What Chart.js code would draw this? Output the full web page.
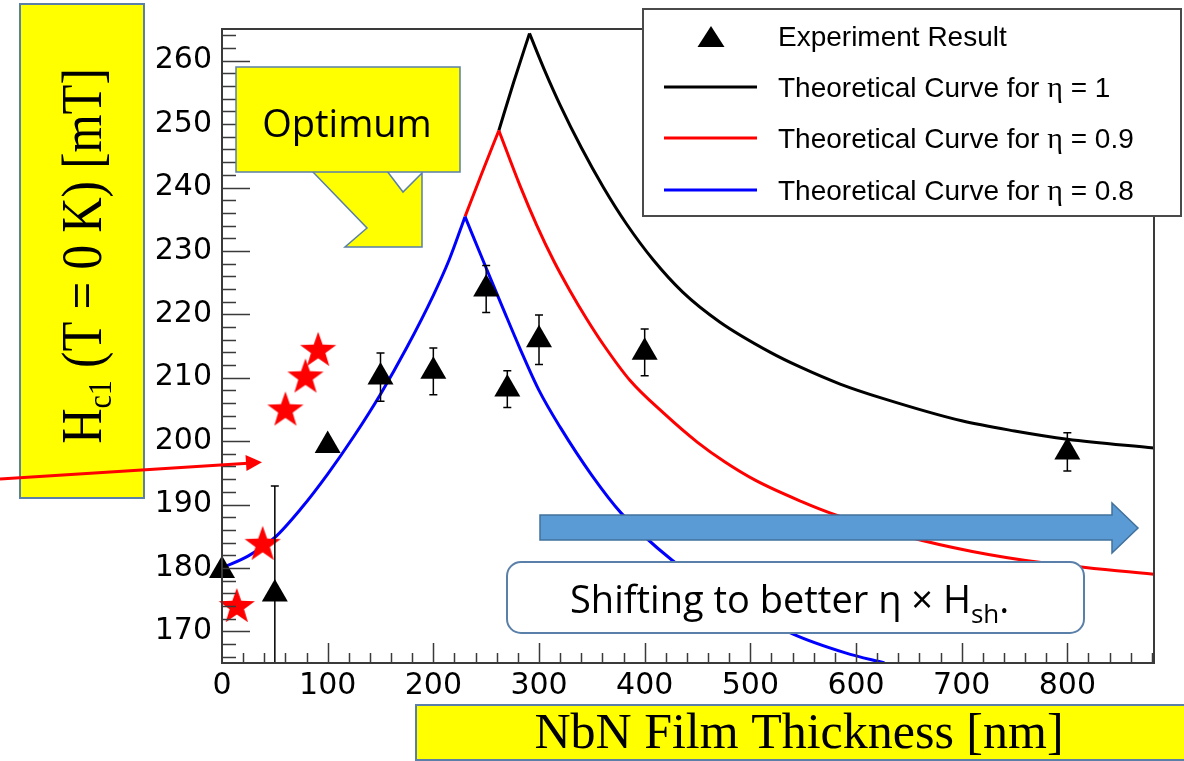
<!DOCTYPE html>
<html>
<head>
<meta charset="utf-8">
<script src="https://cdn.jsdelivr.net/npm/chart.js@4.4.0/dist/chart.umd.min.js"></script>
<style>
  html, body { margin: 0; padding: 0; background: #fff; }
  #wrap { width: 1184px; height: 761px; }
</style>
</head>
<body>
<div id="wrap"><canvas id="hc1Chart" width="1184" height="761"></canvas></div>
<script>
// axis ticks
const xTickVals = [0, 100, 200, 300, 400, 500, 600, 700, 800];
const yTickVals = [170, 180, 190, 200, 210, 220, 230, 240, 250, 260];

// experiment (NbN thickness [nm], Hc1 [mT], error)
const expX = [0, 50, 100, 150, 200, 250, 270, 300, 400, 800];
const expY = [179.6, 175.9, 199.3, 210.1, 211.0, 224.0, 208.2, 216.0, 214.0, 198.3];
const expErr = [0, 17, 0, 3.8, 3.7, 3.7, 2.9, 3.9, 3.7, 3.0];

// red stars
const starX = [14, 38.5, 60, 79, 91];
const starY = [174.0, 183.8, 205.0, 210.2, 214.4];

// eta = 0.8 (blue)
const blueRiseX = [0, 25, 50, 75, 100, 125, 150, 175, 200, 215, 230];
const blueRiseY = [180.0, 181.9, 184.8, 189.4, 194.8, 200.8, 207.4, 214.8, 223.0, 228.6, 235.4];
const blueFallX = [230, 250, 266, 282, 300, 320, 350, 378, 426, 480, 540, 590, 627];
const blueFallY = [235.4, 227.3, 220.9, 214.6, 208.0, 202.2, 194.6, 188.6, 181.2, 175.0, 169.6, 166.6, 165.0];

// eta = 0.9 (red)
const redRiseX = [230, 246, 262];
const redRiseY = [235.4, 242.3, 249.0];
const redFallX = [262, 282, 298, 314, 329, 345, 361, 386, 418, 450, 476, 505, 548, 580, 647, 710, 777, 882];
const redFallY = [249.0, 240.3, 234.0, 228.4, 223.8, 219.3, 215.2, 209.6, 204.4, 199.8, 196.7, 193.8, 190.5, 188.4, 185.0, 182.6, 180.8, 179.0];

// eta = 1 (black)
const blackRiseX = [262, 276, 291];
const blackRiseY = [249.0, 256.6, 264.3];
const blackFallX = [291, 305, 320, 340, 361, 383, 408, 436, 471, 519, 547, 585, 626, 700, 750, 800, 882];
const blackFallY = [264.3, 258.6, 253.0, 246.3, 240.0, 234.2, 228.6, 223.5, 218.8, 214.0, 211.7, 209.0, 206.7, 203.2, 201.6, 200.3, 198.9];

const toPts = (xs, ys) => xs.map((x, i) => ({ x: x, y: ys[i] }));

function makeStar(size, color) {
  const c = document.createElement('canvas');
  c.width = c.height = size;
  const g = c.getContext('2d');
  const R = size / 2 - 1, r = R * 0.4, cx = size / 2, cy = size / 2 + 1;
  g.beginPath();
  for (let i = 0; i < 10; i++) {
    const a = -Math.PI / 2 + i * Math.PI / 5;
    const rr = i % 2 ? r : R;
    g.lineTo(cx + rr * Math.cos(a), cy + rr * Math.sin(a));
  }
  g.closePath();
  g.fillStyle = color;
  g.fill();
  return c;
}
const starImg = makeStar(40, '#ff0000');

const curve = (label, xs, ys, color, order) => ({
  label: label,
  data: toPts(xs, ys),
  showLine: true,
  borderColor: color,
  backgroundColor: color,
  borderWidth: 3,
  pointRadius: 0,
  cubicInterpolationMode: 'monotone',
  order: order
});

const boxBlue = '#5a7fa8';

function richText(ctx, parts, x, y) {
  let cx = x;
  parts.forEach(p => {
    ctx.font = p.font;
    ctx.fillText(p.t, cx, y + (p.dy || 0));
    cx += ctx.measureText(p.t).width;
  });
}
function richWidth(ctx, parts) {
  let w = 0;
  parts.forEach(p => { ctx.font = p.font; w += ctx.measureText(p.t).width; });
  return w;
}

const rootStyle = {
  id: 'rootStyle',
  afterDatasetsDraw(chart) {
    const ctx = chart.ctx, xs = chart.scales.x, ys = chart.scales.y, a = chart.chartArea;
    ctx.save();
    ctx.strokeStyle = '#000';
    ctx.lineWidth = 1.5;
    expX.forEach((xv, i) => {
      if (!expErr[i]) return;
      const px = xs.getPixelForValue(xv);
      const top = ys.getPixelForValue(expY[i] + expErr[i]);
      const bot = ys.getPixelForValue(expY[i] - expErr[i]);
      ctx.beginPath();
      ctx.moveTo(px, Math.max(top, a.top));
      ctx.lineTo(px, Math.min(bot, a.bottom));
      if (top > a.top) { ctx.moveTo(px - 4, top); ctx.lineTo(px + 4, top); }
      if (bot < a.bottom) { ctx.moveTo(px - 4, bot); ctx.lineTo(px + 4, bot); }
      ctx.stroke();
    });
    ctx.restore();
  },
  afterDraw(chart) {
    const ctx = chart.ctx, xs = chart.scales.x, ys = chart.scales.y, a = chart.chartArea;
    ctx.save();

    // frame + inward ticks
    ctx.strokeStyle = '#3a3a3a';
    ctx.lineWidth = 2;
    ctx.strokeRect(a.left, a.top, a.right - a.left, a.bottom - a.top);
    ctx.lineWidth = 1.5;
    ctx.beginPath();
    for (let v = 166; v <= 264; v += 2) {
      const py = Math.round(ys.getPixelForValue(v)) + 0.5;
      ctx.moveTo(a.left, py);
      ctx.lineTo(a.left + (v % 10 === 0 ? 28 : 14), py);
    }
    for (let v = 20; v <= 880; v += 20) {
      const px = Math.round(xs.getPixelForValue(v)) + 0.5;
      ctx.moveTo(px, a.bottom);
      ctx.lineTo(px, a.bottom - (v % 100 === 0 ? 20 : 10));
    }
    ctx.stroke();

    // Optimum callout
    ctx.fillStyle = '#ffff00';
    ctx.strokeStyle = boxBlue;
    ctx.lineWidth = 1.5;
    ctx.beginPath();
    ctx.moveTo(312, 171); ctx.lineTo(367, 228); ctx.lineTo(345, 247); ctx.lineTo(422, 247);
    ctx.lineTo(422, 173); ctx.lineTo(403, 192); ctx.lineTo(387, 171);
    ctx.closePath();
    ctx.fill(); ctx.stroke();
    ctx.fillRect(236, 67, 224, 105);
    ctx.strokeRect(236, 67, 224, 105);
    ctx.fillStyle = '#000';
    ctx.font = "38px 'Open Sans'";
    ctx.textAlign = 'center';
    ctx.textBaseline = 'alphabetic';
    ctx.fillText('Optimum', 347, 137);

    // blue block arrow
    ctx.fillStyle = '#5b9bd5';
    ctx.strokeStyle = '#41719c';
    ctx.lineWidth = 1.5;
    ctx.beginPath();
    ctx.moveTo(540, 515); ctx.lineTo(1112, 515); ctx.lineTo(1112, 503); ctx.lineTo(1138, 528);
    ctx.lineTo(1112, 553); ctx.lineTo(1112, 540); ctx.lineTo(540, 540);
    ctx.closePath();
    ctx.fill(); ctx.stroke();

    // Shifting box
    const bx = 507, by = 562, bw = 577, bh = 71, br = 14;
    ctx.beginPath();
    ctx.moveTo(bx + br, by);
    ctx.arcTo(bx + bw, by, bx + bw, by + bh, br);
    ctx.arcTo(bx + bw, by + bh, bx, by + bh, br);
    ctx.arcTo(bx, by + bh, bx, by, br);
    ctx.arcTo(bx, by, bx + bw, by, br);
    ctx.closePath();
    ctx.fillStyle = '#fff';
    ctx.fill();
    ctx.strokeStyle = boxBlue;
    ctx.lineWidth = 2;
    ctx.stroke();
    ctx.fillStyle = '#000';
    ctx.textAlign = 'left';
    richText(ctx, [
      { t: 'Shifting to better \u03b7 \u00d7 H', font: "38px 'Open Sans'" },
      { t: 'sh', font: "26px 'Open Sans'", dy: 10 },
      { t: '.', font: "38px 'Open Sans'" }
    ], 570, 613);

    // legend
    ctx.fillStyle = '#fff';
    ctx.fillRect(643, 9, 538, 207);
    ctx.strokeStyle = '#4a4a4a';
    ctx.lineWidth = 2;
    ctx.strokeRect(643, 9, 538, 207);
    const seen = [];
    let row = 0;
    const rowsY = [36, 87, 138, 190];
    chart.data.datasets.forEach(ds => {
      if (ds.noLegend || seen.indexOf(ds.label) >= 0) return;
      seen.push(ds.label);
      const ry = rowsY[row++];
      if (ds.showLine) {
        ctx.strokeStyle = ds.borderColor;
        ctx.lineWidth = 3;
        ctx.beginPath();
        ctx.moveTo(664, ry); ctx.lineTo(757, ry);
        ctx.stroke();
      } else {
        ctx.fillStyle = '#000';
        ctx.beginPath();
        ctx.moveTo(711, ry - 10); ctx.lineTo(724.5, ry + 11); ctx.lineTo(697.5, ry + 11);
        ctx.closePath();
        ctx.fill();
      }
      ctx.fillStyle = '#000';
      const bits = ds.label.split('\u03b7');
      const parts = [{ t: bits[0], font: "28px 'Liberation Sans'" }];
      if (bits.length > 1) {
        parts.push({ t: '\u03b7', font: "30px 'Liberation Serif'" });
        parts.push({ t: bits[1], font: "28px 'Liberation Sans'" });
      }
      richText(ctx, parts, 778, ry + 10);
    });

    // y title box
    ctx.fillStyle = '#ffff00';
    ctx.fillRect(20, 4, 124, 494);
    ctx.strokeStyle = boxBlue;
    ctx.lineWidth = 2;
    ctx.strokeRect(20, 4, 124, 494);
    ctx.fillStyle = '#000';
    ctx.save();
    ctx.translate(101, 256);
    ctx.rotate(-Math.PI / 2);
    ctx.scale(1, 1.15);
    const yParts = [
      { t: 'H', font: "49px 'Liberation Serif'" },
      { t: 'c1', font: "30px 'Liberation Serif'", dy: 9 },
      { t: ' (T = 0 K) [mT]', font: "49px 'Liberation Serif'" }
    ];
    richText(ctx, yParts, -richWidth(ctx, yParts) / 2, 0);
    ctx.restore();

    // x title box
    ctx.fillStyle = '#ffff00';
    ctx.fillRect(416, 705, 780, 55);
    ctx.strokeStyle = boxBlue;
    ctx.strokeRect(416, 705, 780, 55);
    ctx.fillStyle = '#000';
    ctx.font = "50px 'Liberation Serif'";
    ctx.textAlign = 'center';
    ctx.fillText('NbN Film Thickness [nm]', 799, 748);

    // red pointer arrow
    ctx.strokeStyle = '#ff0000';
    ctx.fillStyle = '#ff0000';
    ctx.lineWidth = 3;
    ctx.beginPath();
    ctx.moveTo(0, 479); ctx.lineTo(248, 463.2);
    ctx.stroke();
    ctx.beginPath();
    ctx.moveTo(262, 462.3); ctx.lineTo(245.5, 455); ctx.lineTo(246.5, 471);
    ctx.closePath();
    ctx.fill();

    ctx.restore();
  }
};

const tickFont = { family: "'DejaVu Sans'", size: 30 };

new Chart(document.getElementById('hc1Chart'), {
  type: 'scatter',
  data: {
    datasets: [
      {
        label: 'Experiment Result',
        data: toPts(expX, expY),
        pointStyle: 'triangle',
        pointRadius: 15,
        backgroundColor: '#000',
        borderColor: '#000',
        borderWidth: 0,
        showLine: false,
        clip: false,
        order: 0
      },
      curve('Theoretical Curve for \u03b7 = 1', blackRiseX, blackRiseY, '#000000', 5),
      curve('Theoretical Curve for \u03b7 = 0.9', redRiseX, redRiseY, '#ff0000', 4),
      curve('Theoretical Curve for \u03b7 = 0.8', blueRiseX, blueRiseY, '#0000ff', 3),
      curve('Theoretical Curve for \u03b7 = 1', blackFallX, blackFallY, '#000000', 5),
      curve('Theoretical Curve for \u03b7 = 0.9', redFallX, redFallY, '#ff0000', 4),
      curve('Theoretical Curve for \u03b7 = 0.8', blueFallX, blueFallY, '#0000ff', 3),
      {
        label: 'stars',
        noLegend: true,
        data: toPts(starX, starY),
        pointStyle: starImg,
        pointRadius: 20,
        showLine: false,
        clip: false,
        order: 0
      }
    ]
  },
  options: {
    responsive: false,
    animation: false,
    layout: { padding: { left: 0, right: 30, top: 29, bottom: 0 } },
    plugins: { legend: { display: false }, tooltip: { enabled: false } },
    scales: {
      x: {
        type: 'linear',
        min: 0,
        max: 882,
        grid: { display: false, drawTicks: false },
        border: { display: false },
        afterBuildTicks: s => { s.ticks = xTickVals.map(v => ({ value: v })); },
        afterFit: s => { s.height = 98; },
        ticks: { font: tickFont, color: '#000', padding: 5, maxRotation: 0, autoSkip: false }
      },
      y: {
        type: 'linear',
        min: 165,
        max: 265,
        grid: { display: false, drawTicks: false },
        border: { display: false },
        afterBuildTicks: s => { s.ticks = yTickVals.map(v => ({ value: v })); },
        afterFit: s => { s.width = 222; },
        ticks: { font: tickFont, color: '#000', padding: 10, autoSkip: false }
      }
    }
  },
  plugins: [rootStyle]
});
</script>
</body>
</html>
